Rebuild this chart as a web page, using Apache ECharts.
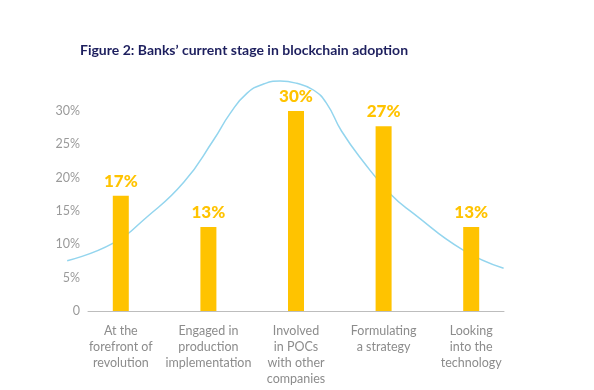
<!DOCTYPE html>
<html><head><meta charset="utf-8">
<script src="https://cdn.jsdelivr.net/npm/echarts@6/dist/echarts.min.js"></script>
<style>html,body{margin:0;padding:0;background:#fff}#c{width:594px;height:390px}</style>
</head><body><div id="c"></div>
<script>
const categories = ['At the\nforefront of\nrevolution','Engaged in\nproduction\nimplementation','Involved\nin POCs\nwith other\ncompanies','Formulating\na strategy','Looking\ninto the\ntechnology'];
const values = [17.3, 12.6, 30.1, 27.7, 12.6];
const valueLabels = ['17%','13%','30%','27%','13%'];
const yTicks = ['0','5%','10%','15%','20%','25%','30%'];
// decorative bell curve: x in category-index units, y in % units
const curveX = [-0.61,-0.09,0.3,0.72,1.06,1.25,1.44,1.63,1.82,2.01,2.2,2.35,2.52,2.77,3.09,3.34,3.9,4.37];
const curveY = [7.55,10.15,14.1,19.3,25.65,29.65,32.65,34.05,34.5,34.15,33.15,31.15,27.0,22.4,17.4,14.65,9.2,6.4];

const chart = echarts.init(document.getElementById('c'));
const FONT = 'Lato';
chart.setOption({
  animation:false,
  title:{text:'Figure 2: Banks\u2019 current stage in blockchain adoption',left:75,top:38,
    textStyle:{fontFamily:FONT,fontSize:14,fontWeight:'bold',color:'#1d1f5e'}},
  grid:[{left:88,right:90,top:111,bottom:79},{left:77,right:79,top:111,bottom:79},{left:33,right:79,top:71,bottom:79}],
  xAxis:[
    {gridIndex:0,type:'value',min:0,max:1,axisLine:{show:true,lineStyle:{color:'#bdbdbd',width:1}},axisTick:{show:false},axisLabel:{show:false},splitLine:{show:false}},
    {gridIndex:1,type:'category',data:categories,axisLine:{show:false},axisTick:{show:false},
      axisLabel:{interval:0,margin:12,color:'#8c8c8c',fontFamily:FONT,fontSize:12.5,lineHeight:16,align:'center'}},
    {gridIndex:2,type:'value',min:-1,max:4.5,show:false}
  ],
  yAxis:[
    {gridIndex:0,type:'value',min:0,max:30,interval:5,axisLine:{show:false},axisTick:{show:false},splitLine:{show:false},
      axisLabel:{margin:8,color:'#9a9a9a',fontFamily:FONT,fontSize:12.5,formatter:(v)=>yTicks[Math.round(v/5)]}},
    {gridIndex:1,type:'value',min:0,max:30,show:false},
    {gridIndex:2,type:'value',min:0,max:36,show:false}
  ],
  series:[
    {type:'line',xAxisIndex:2,yAxisIndex:2,data:curveX.map((x,i)=>[x,curveY[i]]),smooth:0.5,symbol:'none',
      lineStyle:{color:'#93d5ee',width:1.5},z:1},
    {type:'bar',xAxisIndex:1,yAxisIndex:1,data:values,barWidth:16,itemStyle:{color:'#ffc300'},z:2,
      label:{show:true,position:'top',distance:6,formatter:(p)=>valueLabels[p.dataIndex],
        color:'#ffc300',fontFamily:FONT,fontSize:17,fontWeight:900}}
  ]
});
</script></body></html>
